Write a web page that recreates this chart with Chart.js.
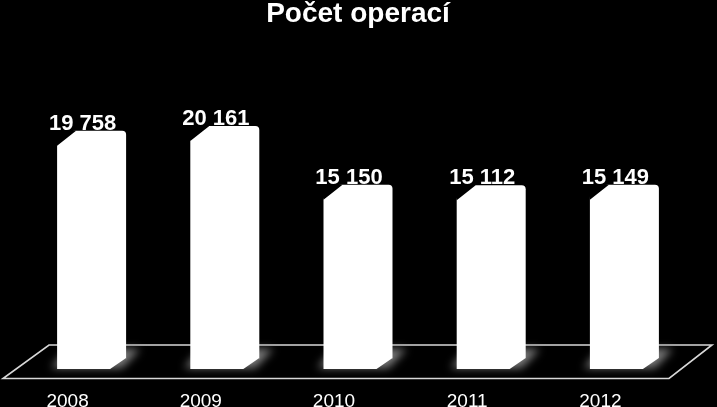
<!DOCTYPE html>
<html lang="cs">
<head>
    <meta charset="UTF-8">
    <title>Počet operací</title>
    <script src="https://cdn.jsdelivr.net/npm/chart.js"></script>
    <style>
        html, body { margin: 0; padding: 0; background: #000; }
        .chart-container { position: relative; width: 717px; height: 407px; }
    </style>
</head>
<body>
    <div class="chart-container">
        <canvas id="opChart"></canvas>
    </div>

    <script>
        // data
        const years = ['2008', '2009', '2010', '2011', '2012'];
        const operations = [19758, 20161, 15150, 15112, 15149];
        const chartTitle = 'Počet operací';

        const fmt = v => String(v).replace(/\B(?=(\d{3})+(?!\d))/g, ' ');

        // floor, shadows and bevelled corners for the "3D" look
        const bars3d = {
            id: 'bars3d',
            beforeDatasetsDraw(chart) {
                const ctx = chart.ctx;
                const area = chart.chartArea;
                const bars = chart.getDatasetMeta(0).data;

                // floor
                const back = area.bottom - 24, front = area.bottom + 9.5;
                ctx.save();
                ctx.strokeStyle = '#d8d8d8';
                ctx.lineWidth = 1.6;
                ctx.beginPath();
                ctx.moveTo(area.left + 24, back);
                ctx.lineTo(area.right + 21, back);
                ctx.lineTo(area.right - 22, front);
                ctx.lineTo(area.left - 22, front);
                ctx.closePath();
                ctx.stroke();

                // soft shadows, mostly to the right of each bar
                ctx.filter = 'blur(4px)';
                ctx.fillStyle = 'rgb(125,125,125)';
                bars.forEach(b => {
                    const l = b.x - b.width / 2, r = b.x + b.width / 2, bot = b.base;
                    ctx.beginPath();
                    ctx.moveTo(l - 6, bot - 1);
                    ctx.lineTo(r - 4, bot - 1);
                    ctx.lineTo(r + 14, bot - 20);
                    ctx.lineTo(l + 10, bot - 20);
                    ctx.closePath();
                    ctx.fill();
                });
                ctx.restore();

                // clip away the bevelled corners
                ctx.save();
                ctx.beginPath();
                ctx.rect(0, 0, chart.width, chart.height);
                bars.forEach(b => {
                    const l = b.x - b.width / 2, r = b.x + b.width / 2;
                    ctx.moveTo(l + 19, b.y);
                    ctx.lineTo(l - 5, b.y - 5);
                    ctx.lineTo(l, b.y + 15);
                    ctx.closePath();
                    ctx.moveTo(r, b.base - 11);
                    ctx.lineTo(r + 5, b.base + 5);
                    ctx.lineTo(r - 16, b.base);
                    ctx.closePath();
                });
                ctx.clip('evenodd');
            },
            afterDatasetsDraw(chart) {
                const ctx = chart.ctx;
                ctx.restore();

                // value labels
                ctx.save();
                ctx.fillStyle = '#fff';
                ctx.font = 'bold 22px "Liberation Sans", Arial, sans-serif';
                ctx.textAlign = 'center';
                ctx.textBaseline = 'alphabetic';
                chart.getDatasetMeta(0).data.forEach((b, i) => {
                    ctx.fillText(fmt(operations[i]), b.x - 9, b.y - 1);
                });
                ctx.restore();
            }
        };

        const ctx = document.getElementById('opChart').getContext('2d');
        new Chart(ctx, {
            type: 'bar',
            data: {
                labels: years,
                datasets: [{
                    data: operations,
                    base: -600,
                    backgroundColor: '#fff',
                    borderWidth: 0,
                    borderRadius: { topLeft: 0, topRight: 4, bottomLeft: 0, bottomRight: 0 },
                    borderSkipped: false,
                    barPercentage: 0.518,
                    categoryPercentage: 1
                }]
            },
            options: {
                responsive: true,
                maintainAspectRatio: false,
                animation: false,
                layout: { padding: { left: 25, right: 26, top: 0, bottom: 0 } },
                plugins: {
                    legend: { display: false },
                    tooltip: { enabled: false },
                    title: {
                        display: true,
                        text: chartTitle,
                        color: '#fff',
                        font: { family: '"Liberation Sans", Arial, sans-serif', size: 28, weight: 'bold', lineHeight: 1 },
                        padding: { top: 0, bottom: 41.5 }
                    }
                },
                scales: {
                    x: {
                        grid: { display: false, drawTicks: false },
                        border: { display: false },
                        ticks: {
                            color: '#fff',
                            labelOffset: -24,
                            padding: 23,
                            font: { family: '"Liberation Sans", Arial, sans-serif', size: 19, lineHeight: 1 }
                        },
                        afterFit(scale) { scale.height = 38; }
                    },
                    y: {
                        display: false,
                        min: -600,
                        max: 25000
                    }
                }
            },
            plugins: [bars3d]
        });
    </script>
</body>
</html>
